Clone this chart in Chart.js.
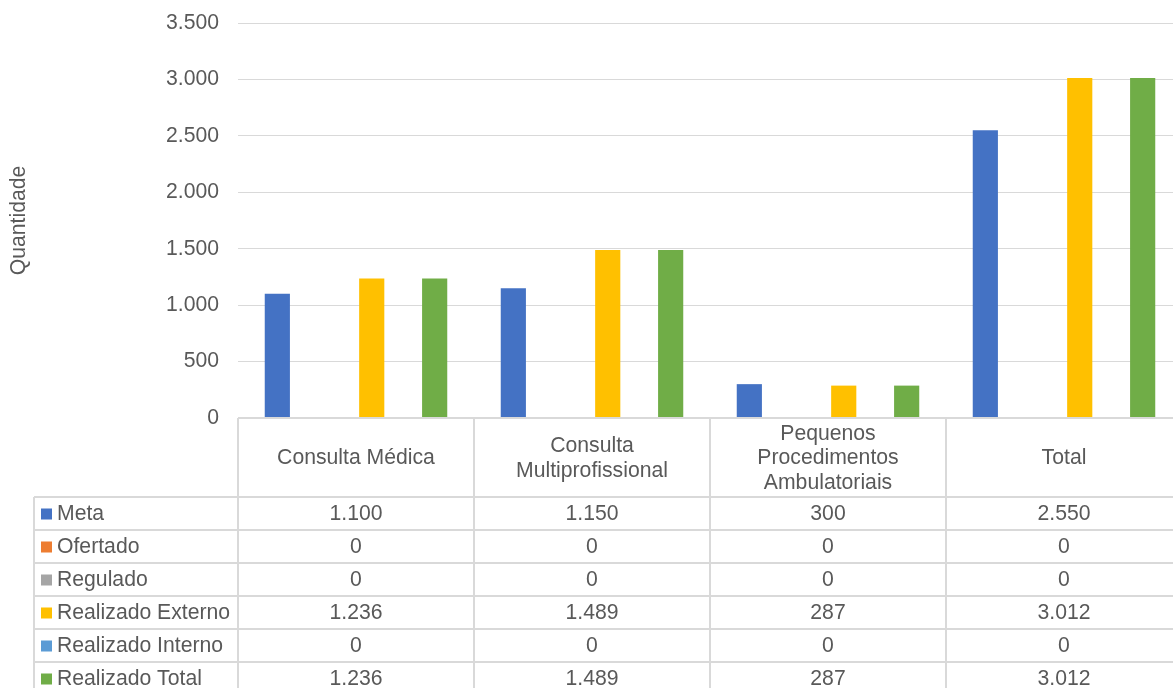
<!DOCTYPE html>
<html>
<head>
<meta charset="utf-8">
<script src="https://cdn.jsdelivr.net/npm/chart.js@4"></script>
<style>
  html, body { margin: 0; padding: 0; background: #fff; overflow: hidden; }
  #wrap { width: 1182px; height: 700px; }
</style>
</head>
<body>
<div id="wrap"><canvas id="chart" width="1182" height="700"></canvas></div>
<script>
const categories = ['Consulta Médica', ['Consulta', 'Multiprofissional'], ['Pequenos', 'Procedimentos', 'Ambulatoriais'], 'Total'];
const seriesNames = ['Meta', 'Ofertado', 'Regulado', 'Realizado Externo', 'Realizado Interno', 'Realizado Total'];
const meta = [1100, 1150, 300, 2550];
const ofertado = [0, 0, 0, 0];
const regulado = [0, 0, 0, 0];
const realizadoExterno = [1236, 1489, 287, 3012];
const realizadoInterno = [0, 0, 0, 0];
const realizadoTotal = [1236, 1489, 287, 3012];
const yTicks = [0, 500, 1000, 1500, 2000, 2500, 3000, 3500];

const colors = ['#4472C4', '#ED7D31', '#A5A5A5', '#FFC000', '#5B9BD5', '#70AD47'];
const textColor = '#595959';
const lineColor = '#d9d9d9';
const font = '"Liberation Sans", Arial, sans-serif';
const fontSize = 21.2;

const seriesValues = [meta, ofertado, regulado, realizadoExterno, realizadoInterno, realizadoTotal];

function fmt(n) {
  return n.toString().replace(/\B(?=(\d{3})+(?!\d))/g, '.');
}

// Data table under the plot (Excel style)
const dataTable = {
  id: 'dataTable',
  afterDraw(chart) {
    const c = chart.ctx;
    const area = chart.chartArea;
    const x = chart.scales.x;
    const n = categories.length;
    const colW = (area.right - area.left) / n;
    const headerTop = area.bottom;
    const headerBottom = headerTop + 79;
    const rowH = 33;
    const legendLeft = 34;
    const rows = seriesNames.length;

    c.save();
    c.strokeStyle = lineColor;
    c.lineWidth = 2;
    c.beginPath();
    // header top line
    c.moveTo(area.left, headerTop);
    c.lineTo(area.right, headerTop);
    // column lines
    for (let i = 0; i <= n; i++) {
      const lx = area.left + i * colW;
      c.moveTo(lx, headerTop);
      c.lineTo(lx, headerBottom + rows * rowH);
    }
    c.moveTo(legendLeft, headerBottom);
    c.lineTo(legendLeft, headerBottom + rows * rowH);
    for (let r = 0; r <= rows; r++) {
      const ly = headerBottom + r * rowH;
      c.moveTo(legendLeft, ly);
      c.lineTo(area.right, ly);
    }
    c.stroke();

    c.fillStyle = textColor;
    c.font = fontSize + 'px ' + font;
    c.textAlign = 'center';
    c.textBaseline = 'middle';
    const lh = 24.5;
    categories.forEach((cat, i) => {
      const lines = Array.isArray(cat) ? cat : [cat];
      const cx = x.getPixelForValue(i);
      const cy = (headerTop + headerBottom) / 2 + 1;
      lines.forEach((t, k) => {
        c.fillText(t, cx, cy + (k - (lines.length - 1) / 2) * lh);
      });
    });

    seriesNames.forEach((name, r) => {
      const cy = headerBottom + r * rowH + rowH / 2 + 1;
      c.fillStyle = colors[r];
      c.fillRect(41, cy - 6, 11, 11);
      c.fillStyle = textColor;
      c.textAlign = 'left';
      c.fillText(name, 57, cy);
      c.textAlign = 'center';
      seriesValues[r].forEach((v, i) => {
        c.fillText(fmt(v), x.getPixelForValue(i), cy);
      });
    });
    c.restore();
  }
};

new Chart(document.getElementById('chart'), {
  type: 'bar',
  data: {
    labels: categories,
    datasets: seriesNames.map((name, i) => ({
      label: name,
      data: seriesValues[i],
      backgroundColor: colors[i],
      borderWidth: 0,
      barPercentage: 0.8,
      categoryPercentage: 0.8
    }))
  },
  options: {
    responsive: false,
    animation: false,
    layout: { padding: { top: 23, bottom: 282, left: 0, right: 0 } },
    plugins: { legend: { display: false }, tooltip: { enabled: false } },
    scales: {
      x: { display: false },
      y: {
        min: 0,
        max: 3500,
        afterBuildTicks: (s) => { s.ticks = yTicks.map(v => ({ value: v })); },
        afterFit: (s) => { s.width = 238; s.paddingTop = 0; s.paddingBottom = 0; },
        border: { display: false },
        grid: { color: lineColor, lineWidth: 1, drawTicks: false },
        ticks: {
          padding: 19,
          color: textColor,
          font: { family: font, size: fontSize },
          callback: (v) => fmt(v)
        },
        title: {
          display: true,
          text: 'Quantidade',
          color: textColor,
          font: { family: font, size: fontSize },
          padding: { top: 6, bottom: 0 }
        }
      }
    }
  },
  plugins: [dataTable]
});
</script>
</body>
</html>
